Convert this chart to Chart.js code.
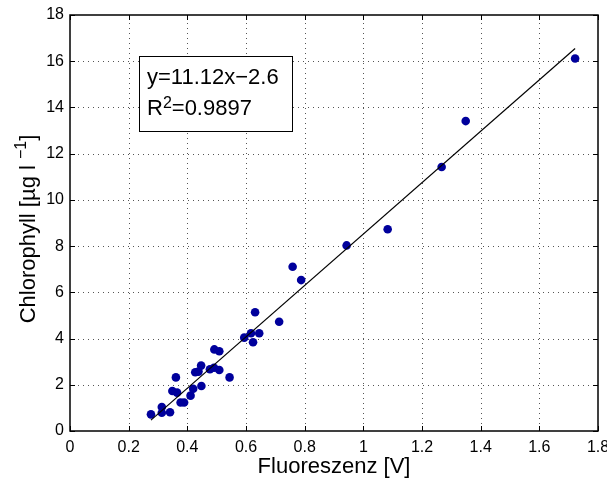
<!DOCTYPE html>
<html>
<head>
<meta charset="utf-8">
<script src="https://cdn.jsdelivr.net/npm/chart.js@4/dist/chart.umd.min.js"></script>
<style>
  html, body { margin: 0; padding: 0; background: #fff; }
  canvas { display: block; }
</style>
</head>
<body>
<canvas id="chl-fluor" width="607" height="479"></canvas>
<script>
// measured values (Fluoreszenz [V] vs Chlorophyll [µg/l])
const fluor = [0.276, 0.313, 0.313, 0.341, 0.349, 0.361, 0.365, 0.377, 0.389, 0.411,
  0.420, 0.427, 0.438, 0.447, 0.448, 0.477, 0.491, 0.492, 0.509, 0.509,
  0.544, 0.594, 0.617, 0.624, 0.631, 0.645, 0.713, 0.759, 0.788, 0.943,
  1.083, 1.267, 1.349, 1.722];
const chl = [0.72, 1.04, 0.79, 0.81, 1.73, 2.32, 1.66, 1.23, 1.23, 1.53,
  1.83, 2.54, 2.57, 2.83, 1.95, 2.67, 2.74, 3.53, 2.64, 3.45,
  2.32, 4.04, 4.23, 3.84, 5.14, 4.23, 4.73, 7.11, 6.53, 8.03,
  8.73, 11.42, 13.41, 16.12];

// regression from the figure
const fitSlope = 11.12;
const fitIntercept = -2.6;
const fitR2 = '0.9897';

const xTicks = [0, 0.2, 0.4, 0.6, 0.8, 1, 1.2, 1.4, 1.6, 1.8];
const yTicks = [0, 2, 4, 6, 8, 10, 12, 14, 16, 18];

const FONT = "'Liberation Sans', Arial, Helvetica, sans-serif";

const points = fluor.map((x, i) => ({ x: x, y: chl[i] }));
const xMin = Math.min(...fluor), xMax = Math.max(...fluor);
const fitLine = [
  { x: xMin, y: fitSlope * xMin + fitIntercept },
  { x: xMax, y: fitSlope * xMax + fitIntercept }
];

// MATLAB-ish frame: dotted grid, box, inward ticks, axis labels, equation box
const matlabFrame = {
  id: 'matlabFrame',
  beforeDatasetsDraw: (chart) => {
    const { ctx, chartArea, scales } = chart;
    const { left, right, top, bottom } = chartArea;
    ctx.save();
    ctx.fillStyle = '#555';
    // dotted grid, 1px dots every 5px
    xTicks.slice(1, -1).forEach(v => {
      const px = Math.round(scales.x.getPixelForValue(v));
      for (let y = Math.round(bottom) - 3; y > top; y -= 5) ctx.fillRect(px, y, 1, 1);
    });
    yTicks.slice(1, -1).forEach(v => {
      const py = Math.round(scales.y.getPixelForValue(v));
      for (let x = Math.round(left) + 3; x < right; x += 5) ctx.fillRect(x, py, 1, 1);
    });
    ctx.restore();
  },
  afterDatasetsDraw: (chart) => {
    const { ctx, chartArea, scales } = chart;
    const { left, right, top, bottom } = chartArea;
    ctx.save();
    ctx.strokeStyle = '#000';
    ctx.lineWidth = 1;
    ctx.beginPath();
    xTicks.forEach(v => {
      const px = Math.round(scales.x.getPixelForValue(v)) + 0.5;
      ctx.moveTo(px, bottom); ctx.lineTo(px, bottom - 5);
      ctx.moveTo(px, top); ctx.lineTo(px, top + 5);
    });
    yTicks.forEach(v => {
      const py = Math.round(scales.y.getPixelForValue(v)) + 0.5;
      ctx.moveTo(left, py); ctx.lineTo(left + 5, py);
      ctx.moveTo(right, py); ctx.lineTo(right - 5, py);
    });
    ctx.stroke();
    ctx.lineWidth = 1.5;
    ctx.strokeRect(left, top, right - left, bottom - top);
    ctx.restore();
  },
  afterDraw: (chart) => {
    const { ctx, chartArea } = chart;
    ctx.save();
    ctx.fillStyle = '#000';

    // x label
    ctx.font = '22px ' + FONT;
    ctx.textAlign = 'center';
    ctx.textBaseline = 'alphabetic';
    ctx.fillText('Fluoreszenz [V]', (chartArea.left + chartArea.right) / 2, 473);

    // y label with superscript
    const main = 'Chlorophyll [\u00b5g l ';
    const sup = '\u22121';
    const tail = ']';
    ctx.font = '22px ' + FONT;
    const wMain = ctx.measureText(main).width;
    const wTail = ctx.measureText(tail).width;
    ctx.font = '16px ' + FONT;
    const wSup = ctx.measureText(sup).width;
    const total = wMain + wSup + wTail;
    ctx.translate(35, 229);
    ctx.rotate(-Math.PI / 2);
    ctx.textAlign = 'left';
    let x0 = -total / 2;
    ctx.font = '22px ' + FONT;
    ctx.fillText(main, x0, 0);
    ctx.font = '16px ' + FONT;
    ctx.fillText(sup, x0 + wMain, -9);
    ctx.font = '22px ' + FONT;
    ctx.fillText(tail, x0 + wMain + wSup, 0);
    ctx.restore();

    // equation box
    ctx.save();
    ctx.fillStyle = '#fff';
    ctx.fillRect(139, 56, 153, 75);
    ctx.strokeStyle = '#000';
    ctx.lineWidth = 1;
    ctx.strokeRect(139.5, 56.5, 153, 75);
    ctx.fillStyle = '#000';
    ctx.textAlign = 'left';
    ctx.textBaseline = 'alphabetic';
    ctx.font = '22px ' + FONT;
    ctx.fillText('y=' + fitSlope + 'x\u2212' + Math.abs(fitIntercept), 147, 84);
    ctx.fillText('R', 147, 115);
    const wR = ctx.measureText('R').width;
    ctx.font = '16px ' + FONT;
    ctx.fillText('2', 147 + wR, 108);
    const w2 = ctx.measureText('2').width;
    ctx.font = '22px ' + FONT;
    ctx.fillText('=' + fitR2, 147 + wR + w2, 115);
    ctx.restore();
  }
};

const ctx = document.getElementById('chl-fluor').getContext('2d');

new Chart(ctx, {
  type: 'scatter',
  data: {
    datasets: [
      {
        type: 'line',
        label: 'Fit',
        data: fitLine,
        borderColor: '#000',
        borderWidth: 1.2,
        pointRadius: 0,
        fill: false
      },
      {
        label: 'Messwerte',
        data: points,
        backgroundColor: '#00009c',
        borderWidth: 0,
        pointRadius: 4.3
      }
    ]
  },
  options: {
    responsive: false,
    animation: false,
    layout: { padding: { top: 15, right: 9, left: 0, bottom: 0 } },
    plugins: {
      legend: { display: false },
      tooltip: { enabled: false }
    },
    scales: {
      x: {
        type: 'linear',
        min: 0,
        max: 1.8,
        afterBuildTicks: (scale) => { scale.ticks = xTicks.map(v => ({ value: v })); },
        afterFit: (scale) => {
          scale.height = 48;
          scale.paddingLeft = 0;
          scale.paddingRight = 0;
        },
        grid: { display: false, drawTicks: false },
        border: { display: false },
        ticks: {
          color: '#000',
          font: { family: FONT, size: 16 },
          padding: 7,
          maxRotation: 0,
          callback: (v) => String(+v.toFixed(1))
        }
      },
      y: {
        min: 0,
        max: 18,
        afterBuildTicks: (scale) => { scale.ticks = yTicks.map(v => ({ value: v })); },
        afterFit: (scale) => {
          scale.width = 70;
          scale.paddingTop = 0;
          scale.paddingBottom = 0;
        },
        grid: { display: false, drawTicks: false },
        border: { display: false },
        ticks: {
          color: '#000',
          font: { family: FONT, size: 16 },
          padding: 6,
          callback: (v) => String(v)
        }
      }
    }
  },
  plugins: [matlabFrame]
});
</script>
</body>
</html>
